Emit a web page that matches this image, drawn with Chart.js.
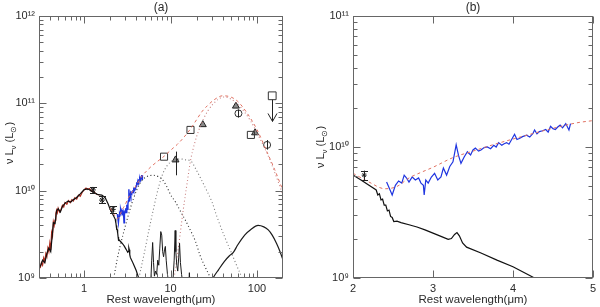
<!DOCTYPE html>
<html><head><meta charset="utf-8">
<script src="https://cdn.jsdelivr.net/npm/chart.js@4.4.0/dist/chart.umd.min.js"></script>
<style>
html,body{margin:0;padding:0;background:#fff;width:600px;height:307px;overflow:hidden}
canvas{position:absolute;top:0}
#ca{left:0}#cb{left:300px}
</style></head><body>
<canvas id="ca" width="300" height="307"></canvas>
<canvas id="cb" width="300" height="307"></canvas>
<script>
// ---------------- data (wavelength in micron, nuLnu in L_sun) ----------------
const stellarX = [0.31,0.33,0.35,0.37,0.39,0.41,0.43,0.44,0.46,0.48,0.50,0.53,0.56,0.60,0.65,0.70,0.75,0.80,0.85,0.90,1.0,1.1,1.2,1.3,1.45,1.6,1.75,1.9,2.0,2.1,2.2,2.29,2.31,2.33,2.35,2.37,2.39,2.41,2.43,2.45,2.47,2.49,2.51,2.55,2.6,2.7,2.8,2.9,3.0,3.1,3.19,3.23,3.27,3.3,3.33,3.37,3.42,3.6,3.8,4.0,4.27,4.6];
const stellarY = [1.35e9,1.6e9,1.5e9,1.9e9,2.2e9,2.0e9,3.3e9,4.3e9,4.2e9,5.9e9,6.2e9,5.7e9,6.6e9,7.2e9,7.6e9,7.4e9,7.9e9,8.2e9,8.7e9,9.2e9,1.03e10,1.05e10,1.0e10,9.5e9,9.0e9,8.9e9,8.3e9,7.0e9,6.1e9,5.6e9,5.1e9,4.7e9,4.3e9,4.4e9,3.95e9,4.0e9,3.6e9,3.6e9,3.25e9,3.3e9,2.95e9,2.9e9,2.7e9,2.72e9,2.65e9,2.55e9,2.45e9,2.33e9,2.2e9,2.08e9,1.97e9,2.0e9,2.15e9,2.22e9,2.1e9,1.85e9,1.72e9,1.55e9,1.37e9,1.22e9,1.0e9,0.8e9];
const opticalX = [0.31,0.32,0.33,0.34,0.35,0.36,0.37,0.38,0.39,0.40,0.41,0.42,0.43,0.44,0.45,0.46,0.47,0.48,0.49,0.50,0.52,0.54,0.56,0.58,0.60,0.63,0.66,0.69,0.72,0.75,0.78,0.82,0.86,0.90,0.95,1.0,1.05,1.1,1.15,1.2,1.3,1.4,1.5];
const opticalY = [1.3e9,1.5e9,1.4e9,1.7e9,1.55e9,1.9e9,1.75e9,2.2e9,2.0e9,2.5e9,2.1e9,3.3e9,3.0e9,4.4e9,4.0e9,4.6e9,5.5e9,6.0e9,5.6e9,6.3e9,5.7e9,6.1e9,6.8e9,6.5e9,7.3e9,7.0e9,7.7e9,7.3e9,7.9e9,7.6e9,8.3e9,8.0e9,8.9e9,8.6e9,9.6e9,1.02e10,1.07e10,1.03e10,1.06e10,1.0e10,9.6e9,9.1e9,8.95e9];
const specX = [2.42,2.45,2.49,2.53,2.57,2.61,2.64,2.67,2.70,2.74,2.78,2.82,2.85,2.88,2.89,2.91,2.94,2.98,3.02,3.06,3.10,3.13,3.17,3.21,3.25,3.29,3.32,3.35,3.39,3.43,3.47,3.50,3.53,3.57,3.60,3.64,3.68,3.72,3.76,3.79,3.82,3.86,3.89,3.92,3.95,3.98,4.02,4.05,4.08,4.12,4.17,4.21,4.25,4.27,4.30,4.33,4.37,4.41,4.44,4.47,4.50,4.53,4.56,4.59,4.62,4.66,4.70,4.72];
const specY = [5.4e9,4.9e9,4.3e9,5.1e9,5.5e9,5.3e9,6.1e9,5.8e9,5.4e9,5.9e9,5.6e9,5.8e9,5.3e9,5.1e9,4.3e9,5.6e9,5.3e9,5.9e9,6.3e9,5.6e9,5.9e9,6.9e9,6.1e9,7.1e9,7.7e9,1.04e10,8.6e9,7.5e9,8.4e9,9.2e9,8.7e9,9.5e9,9.8e9,9.3e9,9.5e9,9.9e9,1.0e10,9.7e9,1.03e10,1.0e10,1.08e10,1.03e10,1.06e10,1.08e10,1.05e10,1.13e10,1.25e10,1.14e10,1.16e10,1.2e10,1.23e10,1.19e10,1.27e10,1.35e10,1.26e10,1.31e10,1.33e10,1.36e10,1.3e10,1.44e10,1.38e10,1.36e10,1.42e10,1.47e10,1.4e10,1.51e10,1.35e10,1.51e10];
const totalX = [2.0,2.2,2.4,2.55,2.7,2.85,3.0,3.25,3.5,3.75,4.0,4.4,4.8,5.0,5.5,6,7,8.5,10,12,14,17,20,23,27,32,40,50,60,75,100,130,160,200];
const totalY = [6.3e9,5.4e9,4.8e9,5.0e9,5.8e9,6.4e9,7.0e9,8.3e9,9.3e9,1.04e10,1.15e10,1.34e10,1.53e10,1.59e10,1.75e10,1.9e10,2.15e10,2.5e10,2.9e10,3.4e10,4.0e10,5.1e10,6.5e10,8.0e10,9.5e10,1.1e11,1.22e11,1.18e11,1.05e11,8.0e10,5.0e10,2.8e10,1.75e10,1.0e10];
const hotX = [2.2,2.4,2.6,2.9,3.2,3.7,4.5,5.3,6.3,7.2,8,9,10,11.5,13,15,17,19.5,22,25,29,32];
const hotY = [1.0e9,1.6e9,2.3e9,3.5e9,5.0e9,8.0e9,1.25e10,1.45e10,1.5e10,1.45e10,1.35e10,1.12e10,9.0e9,7.3e9,5.8e9,4.5e9,3.5e9,2.6e9,1.8e9,1.35e9,1.0e9,0.8e9];
const warmX = [4.3,5,5.6,6.3,7,8,9,10.5,12,13.5,15,17,20,25,30,34.5,42,50,58,67,75];
const warmY = [1.0e9,2.0e9,3.5e9,6.0e9,9.5e9,1.5e10,1.9e10,2.2e10,2.3e10,2.3e10,2.25e10,2.2e10,1.7e10,1.1e10,7.5e9,5.0e9,3.0e9,2.0e9,1.4e9,1.0e9,0.7e9];
const coldX = [11,12.5,14,15.5,17,19,21,24,27,31,36,40,45,50,60,70,85,100,120,140,165,200];
const coldY = [1.0e9,2.5e9,6.0e9,1.2e10,2.2e10,3.5e10,4.8e10,6.6e10,8.2e10,9.8e10,1.12e11,1.18e11,1.17e11,1.12e11,9.8e10,8.2e10,6.2e10,4.6e10,3.2e10,2.3e10,1.5e10,9.0e9];
const pahX = [5.6,5.9,6.05,6.2,6.35,6.5,6.7,6.9,7.1,7.3,7.5,7.7,7.9,8.1,8.3,8.5,8.7,8.9,9.2,9.6,10.2,10.7,11.0,11.3,11.5,11.8,12.1,12.4,12.7,13.0,13.4,14.0,15.5,16.3,16.5,16.8,17.5];
const pahY = [0.6e9,0.9e9,1.6e9,2.55e9,1.5e9,1.05e9,1.2e9,1.1e9,1.6e9,1.4e9,2.2e9,3.4e9,3.1e9,2.0e9,1.75e9,2.1e9,2.3e9,1.6e9,1.1e9,0.8e9,0.7e9,1.0e9,1.6e9,3.5e9,2.0e9,1.4e9,1.2e9,1.7e9,2.5e9,1.5e9,1.1e9,0.8e9,0.7e9,0.9e9,1.15e9,0.8e9,0.6e9];
const farX = [28,31,36,42,48,53,60,72,85,103,120,135,150,168,185,200,220];
const farY = [0.8e9,1.0e9,1.25e9,1.55e9,1.8e9,1.95e9,2.4e9,3.1e9,3.6e9,4.0e9,3.85e9,3.55e9,3.1e9,2.5e9,2.0e9,1.6e9,1.2e9];
// photometry
const nirX = [1.26,1.61,2.14];
const nirY = [1.02e10,7.8e9,6.1e9];
const nirLo = [9.4e9,7.2e9,5.6e9];
const nirHi = [1.1e10,8.7e9,6.6e9];
const squareX = [8.4,17,85];
const squareY = [2.45e10,4.96e10,4.35e10];
const triX = [11.4,23.6,57,95];
const triY = [2.25e10,5.7e10,9.3e10,4.6e10];
const triErrX = [11.4];
const triLo = [1.5e10];
const triHi = [2.8e10];
const phiX = [61,131];
const phiY = [7.66e10,3.34e10];
const phiLo = [6.9e10,2.95e10];
const phiHi = [8.5e10,3.8e10];
const limX = [150];
const limY = [1.22e11];
const limTo = [6.2e10];
// axes
const xTicksA = [1,10,100];
const xLabelsA = ['1','10','100'];
const yTicksA = [1e9,1e10,1e11,1e12];
const yLabelsA = ['10\u2079','10\u00b9\u2070','10\u00b9\u00b9','10\u00b9\u00b2'];
const xTicksB = [2,3,4,5];
const xLabelsB = ['2','3','4','5'];
const yTicksB = [1e9,1e10,1e11];
const yLabelsB = ['10\u2079','10\u00b9\u2070','10\u00b9\u00b9'];
const panelTitles = ['(a)','(b)'];
const xTitle = 'Rest wavelength(\u03bcm)';

// ---------------- helpers ----------------
const FONT = "'Liberation Sans', Arial, sans-serif";
const TXT = '#2a2a2a';
const pts = (xs, ys) => xs.map((x, i) => ({x, y: ys[i]}));
function line(xs, ys, o) {
  return Object.assign({data: pts(xs, ys), showLine: true, pointRadius: 0, borderWidth: 1.2, fill: false, tension: 0}, o);
}
function labeler(vals, labs) {
  return v => {
    for (let i = 0; i < vals.length; i++) if (Math.abs(v - vals[i]) <= Math.abs(vals[i]) * 1e-6) return labs[i];
    return '';
  };
}
function logMinors(lo, hi) {
  const out = [];
  for (let e = Math.floor(Math.log10(lo)); e <= Math.ceil(Math.log10(hi)); e++)
    for (let m = 2; m <= 9; m++) { const v = m * Math.pow(10, e); if (v > lo && v < hi) out.push(v); }
  return out;
}
function drawRich(ctx, parts, cx, cy, size) {
  let w = 0;
  parts.forEach(p => { ctx.font = (p.sub ? size * 0.72 : size) + 'px ' + FONT; p.w = ctx.measureText(p.t).width; w += p.w; });
  let x = cx - w / 2;
  ctx.textBaseline = 'middle'; ctx.textAlign = 'left';
  parts.forEach(p => {
    ctx.font = (p.sub ? size * 0.72 : size) + 'px ' + FONT;
    ctx.fillText(p.t, x, cy + (p.sub ? size * 0.35 : 0));
    x += p.w;
  });
}
const yTitleParts = [{t: '\u03bd L'}, {t: '\u03bd', sub: true}, {t: ' (L'}, {t: '\u2299', sub: true}, {t: ')'}];

const deco = {
  id: 'deco',
  afterDatasetsDraw(chart, args, o) {
    const {ctx, chartArea: a, scales: {x, y}} = chart;
    ctx.save();
    ctx.beginPath(); ctx.rect(a.left, a.top, a.right - a.left, a.bottom - a.top); ctx.clip();
    ctx.strokeStyle = '#222'; ctx.lineWidth = 1;
    (o.bars || []).forEach(b => {
      b.x.forEach((xv, i) => {
        const px = Math.round(x.getPixelForValue(xv)) + 0.5;
        const p1 = y.getPixelForValue(b.lo[i]), p2 = y.getPixelForValue(b.hi[i]);
        ctx.beginPath(); ctx.moveTo(px, p1); ctx.lineTo(px, p2);
        if (b.cap) {
          ctx.moveTo(px - b.cap, Math.round(p1) + 0.5); ctx.lineTo(px + b.cap, Math.round(p1) + 0.5);
          ctx.moveTo(px - b.cap, Math.round(p2) + 0.5); ctx.lineTo(px + b.cap, Math.round(p2) + 0.5);
        }
        ctx.stroke();
      });
    });
    (o.arrows || []).forEach(b => {
      b.x.forEach((xv, i) => {
        const px = Math.round(x.getPixelForValue(xv)) + 0.5;
        const p1 = y.getPixelForValue(b.from[i]) + 4, p2 = y.getPixelForValue(b.to[i]);
        ctx.beginPath(); ctx.moveTo(px, p1); ctx.lineTo(px, p2);
        ctx.moveTo(px - 4.5, p2 - 8); ctx.lineTo(px, p2); ctx.lineTo(px + 4.5, p2 - 8);
        ctx.stroke();
      });
    });
    ctx.restore();
  },
  afterDraw(chart, args, o) {
    const {ctx, chartArea: a, scales: {x, y}} = chart;
    ctx.save();
    ctx.strokeStyle = '#666'; ctx.lineWidth = 1;
    const L = Math.round(a.left) + 0.5, R = Math.round(a.right) - 0.5, T = Math.round(a.top) + 0.5, B = Math.round(a.bottom) - 0.5;
    ctx.strokeRect(L, T, R - L, B - T);
    ctx.beginPath();
    const tx = (v, len) => { const p = Math.round(x.getPixelForValue(v)) + 0.5; ctx.moveTo(p, B); ctx.lineTo(p, B - len); ctx.moveTo(p, T); ctx.lineTo(p, T + len); };
    const ty = (v, len) => { const p = Math.round(y.getPixelForValue(v)) + 0.5; ctx.moveTo(L, p); ctx.lineTo(L + len, p); ctx.moveTo(R, p); ctx.lineTo(R - len, p); };
    o.xMaj.forEach(v => tx(v, 7)); (o.xMin || []).forEach(v => tx(v, 4));
    o.yMaj.forEach(v => ty(v, 7)); (o.yMin || []).forEach(v => ty(v, 4));
    ctx.stroke();
    ctx.fillStyle = TXT;
    ctx.font = '12px ' + FONT; ctx.textAlign = 'center'; ctx.textBaseline = 'middle';
    ctx.fillText(o.title, (a.left + a.right) / 2, 8);
    ctx.translate(o.ytx, o.yty); ctx.rotate(-Math.PI / 2);
    drawRich(ctx, yTitleParts, 0, 0, 11);
    ctx.restore();
  }
};

function scales(xCfg, yCfg, yWidth) {
  const tick = {color: TXT, font: {family: FONT, size: 11}, autoSkip: false, maxRotation: 0, minRotation: 0};
  return {
    x: Object.assign({
      grid: {display: false, drawTicks: false}, border: {display: false},
      ticks: Object.assign({}, tick, {padding: 4, callback: labeler(xCfg.vals, xCfg.labs)}, xCfg.tickOpt || {}),
      title: {display: true, text: xTitle, color: TXT, font: {family: FONT, size: 11.5}, padding: {top: 0, bottom: 0}},
      afterFit: s => { s.height = 29; }
    }, xCfg.opt),
    y: Object.assign({
      grid: {display: false, drawTicks: false}, border: {display: false},
      ticks: Object.assign({}, tick, {padding: 4, callback: labeler(yCfg.vals, yCfg.labs)}),
      afterFit: s => { s.width = yWidth; }
    }, yCfg.opt)
  };
}

const common = {responsive: false, animation: false, events: []};

// ---------------- panel (a) ----------------
new Chart(document.getElementById('ca'), {
  type: 'scatter',
  data: {datasets: [
    line(pahX, pahY, {borderColor: '#1a1a1a', borderWidth: 1}),
    line(farX, farY, {borderColor: '#1a1a1a', cubicInterpolationMode: 'monotone'}),
    line(hotX, hotY, {borderColor: '#2a2a2a', borderWidth: 1.1, borderDash: [1, 2.5], cubicInterpolationMode: 'monotone'}),
    line(warmX, warmY, {borderColor: '#7a7a7a', borderWidth: 1.1, borderDash: [1, 2.5], cubicInterpolationMode: 'monotone'}),
    line(coldX, coldY, {borderColor: '#c98080', borderWidth: 1.1, borderDash: [1, 2.5], cubicInterpolationMode: 'monotone'}),
    line(totalX, totalY, {borderColor: '#e07060', borderWidth: 1, borderDash: [3, 3], cubicInterpolationMode: 'monotone'}),
    line(stellarX, stellarY, {borderColor: '#111'}),
    line(opticalX, opticalY, {borderColor: '#b02a1c', borderWidth: 1.2}),
    line(specX, specY, {borderColor: '#1f35e0', borderWidth: 1.4}),
    {data: pts(squareX, squareY), pointStyle: 'rect', pointRadius: 5, borderColor: '#333', borderWidth: 1, backgroundColor: 'rgba(0,0,0,0)'},
    {data: pts(limX, limY), pointStyle: 'rect', pointRadius: 5.5, borderColor: '#333', borderWidth: 1, backgroundColor: 'rgba(0,0,0,0)'},
    {data: pts(triX, triY), pointStyle: 'triangle', pointRadius: 4, borderColor: '#222', borderWidth: 1, backgroundColor: '#8a8a8a'},
    {data: pts(phiX, phiY), pointStyle: 'circle', pointRadius: 3.5, borderColor: '#333', borderWidth: 1, backgroundColor: 'rgba(0,0,0,0)'},
    {data: pts(nirX, nirY), pointStyle: 'star', pointRadius: 3, borderColor: '#222', borderWidth: 1}
  ]},
  options: Object.assign({}, common, {
    layout: {padding: {top: 16, right: 17, left: 0, bottom: 0}},
    plugins: {legend: {display: false}, tooltip: {enabled: false},
      deco: {title: panelTitles[0], ytx: 9.5, yty: 143,
        xMaj: xTicksA, xMin: logMinors(0.31, 200), yMaj: yTicksA, yMin: logMinors(1e9, 1e12),
        bars: [{x: nirX, lo: nirLo, hi: nirHi, cap: 3.5}, {x: triErrX, lo: triLo, hi: triHi}, {x: phiX, lo: phiLo, hi: phiHi}],
        arrows: [{x: limX, from: limY, to: limTo}]}},
    scales: scales({vals: xTicksA, labs: xLabelsA, opt: {type: 'logarithmic', min: 0.31, max: 200}},
                   {vals: yTicksA, labs: yLabelsA, opt: {type: 'logarithmic', min: 1e9, max: 1e12}}, 39)
  }),
  plugins: [deco]
});

// ---------------- panel (b) ----------------
new Chart(document.getElementById('cb'), {
  type: 'scatter',
  data: {datasets: [
    line(stellarX, stellarY, {borderColor: '#111'}),
    line(totalX, totalY, {borderColor: '#e07060', borderWidth: 1, borderDash: [3, 3], cubicInterpolationMode: 'monotone'}),
    line(specX, specY, {borderColor: '#1f35e0', borderWidth: 1.2}),
    {data: pts(nirX, nirY), pointStyle: 'star', pointRadius: 2.5, borderColor: '#222', borderWidth: 1}
  ]},
  options: Object.assign({}, common, {
    layout: {padding: {top: 16, right: 0, left: 0, bottom: 0}},
    plugins: {legend: {display: false}, tooltip: {enabled: false},
      deco: {title: panelTitles[1], ytx: 21, yty: 147,
        xMaj: xTicksB, xMin: [], yMaj: yTicksB, yMin: logMinors(1e9, 1e11),
        bars: [{x: nirX, lo: nirLo, hi: nirHi, cap: 3.5}]}},
    scales: scales({vals: xTicksB, labs: xLabelsB, opt: {type: 'linear', min: 2, max: 5}, tickOpt: {stepSize: 1}},
                   {vals: yTicksB, labs: yLabelsB, opt: {type: 'logarithmic', min: 1e9, max: 1e11}}, 53)
  }),
  plugins: [deco]
});
</script>
</body></html>
